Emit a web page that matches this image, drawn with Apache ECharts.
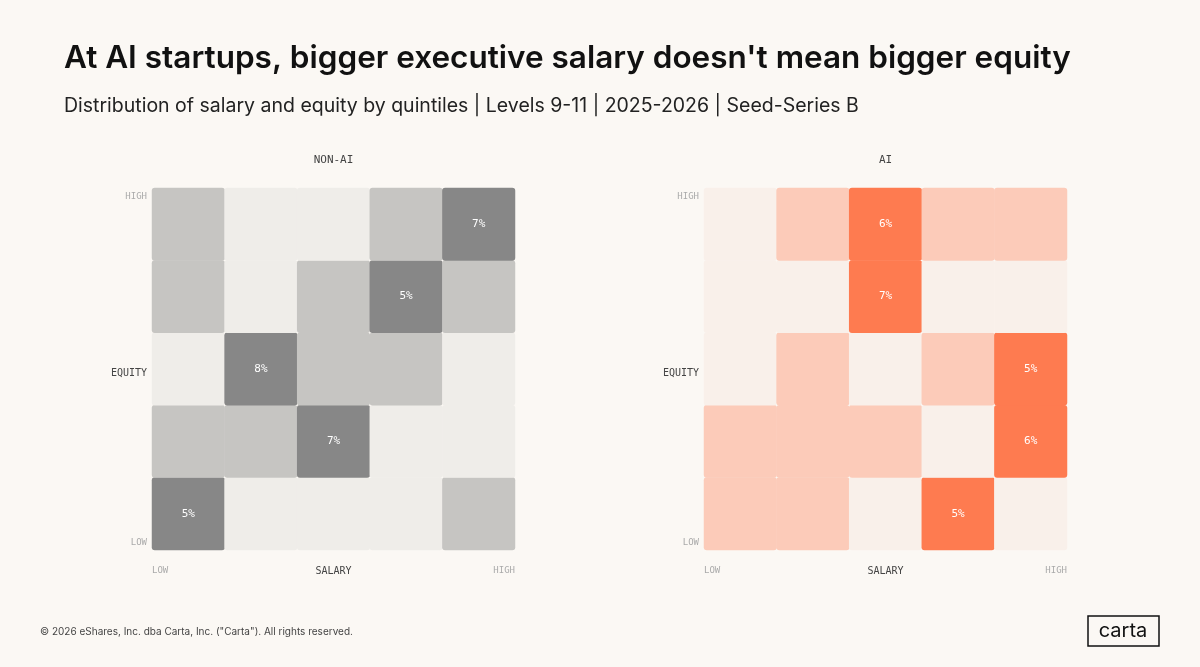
<!doctype html>
<html lang="en">
<head>
<meta charset="utf-8" />
<script src="https://cdn.jsdelivr.net/npm/echarts@6/dist/echarts.min.js"></script>
<style>
	html, body { margin: 0; background: #fbf8f4; }
	#main { width: 1200px; height: 667px; }
</style>
</head>
<body>
<div id="main"></div>
<script>
	// shade level per cell, rows from LOW equity (bottom) to HIGH, columns salary LOW -> HIGH
	var nonAiLevels = [
		[2, 0, 0, 0, 1],
		[1, 1, 2, 0, 0],
		[0, 2, 1, 1, 0],
		[1, 0, 1, 2, 1],
		[1, 0, 0, 1, 2]
	];
	var nonAiPct = [
		['5%', '', '', '', ''],
		['', '', '7%', '', ''],
		['', '8%', '', '', ''],
		['', '', '', '5%', ''],
		['', '', '', '', '7%']
	];
	var aiLevels = [
		[1, 1, 0, 2, 0],
		[1, 1, 1, 0, 2],
		[0, 1, 0, 1, 2],
		[0, 0, 2, 0, 0],
		[0, 1, 2, 1, 1]
	];
	var aiPct = [
		['', '', '', '5%', ''],
		['', '', '', '', '6%'],
		['', '', '', '', '5%'],
		['', '', '7%', '', ''],
		['', '', '6%', '', '']
	];
	var quintiles = ['Q1', 'Q2', 'Q3', 'Q4', 'Q5'];

	var greyPalette = ['#efede9', '#c6c5c2', '#878787'];
	var orangePalette = ['#f9f0ea', '#fccbb9', '#fe7b50'];
	var mono = '"DejaVu Sans Mono", monospace';

	function buildCells(levels, pct, palette) {
		var out = [];
		levels.forEach(function (row, y) {
			row.forEach(function (lv, x) {
				out.push({
					value: [x, y, lv],
					pct: pct[y][x],
					itemStyle: { color: palette[lv] }
				});
			});
		});
		return out;
	}

	var grids = [
		{ left: 152, top: 188, width: 363, height: 362 },
		{ left: 704, top: 188, width: 363, height: 362 }
	];

	function axes() {
		return [0, 1].map(function (i) {
			return { type: 'category', data: quintiles, gridIndex: i, show: false };
		});
	}

	function cellSeries(i, levels, pct, palette) {
		return {
			type: 'heatmap', xAxisIndex: i, yAxisIndex: i,
			data: buildCells(levels, pct, palette),
			itemStyle: { borderRadius: 3, borderWidth: 0 },
			label: {
				show: true, color: '#fff', fontFamily: mono, fontSize: 11,
				formatter: function (p) { return p.data.pct; }
			},
			emphasis: { disabled: true }
		};
	}

	function panelText(g, name) {
		var cx = g.left + g.width / 2;
		var st = { fontFamily: mono, fontSize: 9, fill: '#aaa' };
		function t(x, y, text, align, color, size) {
			return { type: 'text', x: x, y: y, style: Object.assign({}, st, {
				text: text, align: align, verticalAlign: 'middle',
				fill: color || st.fill, fontSize: size || st.fontSize }) };
		}
		return [
			t(cx, 160, name, 'center', '#444', 11),
			t(g.left - 5, 197, 'HIGH', 'right'),
			t(g.left - 5, 543, 'LOW', 'right'),
			t(g.left - 5, 373, 'EQUITY', 'right', '#444', 10),
			t(g.left, 571, 'LOW', 'left'),
			t(cx, 571, 'SALARY', 'center', '#444', 10),
			t(g.left + g.width, 571, 'HIGH', 'right')
		];
	}

	var chart = echarts.init(document.getElementById('main'));
	chart.setOption({
		backgroundColor: '#fbf8f4',
		animation: false,
		title: [
			{ text: "At AI startups, bigger executive salary doesn't mean bigger equity",
			  left: 59, top: 38,
			  textStyle: { fontFamily: 'Inter', fontWeight: 600, fontSize: 31.5, color: '#111' } },
			{ text: 'Distribution of salary and equity by quintiles | Levels 9-11 | 2025-2026 | Seed-Series B',
			  left: 59, top: 91,
			  textStyle: { fontFamily: 'Inter', fontWeight: 400, fontSize: 19.5, color: '#222' } }
		],
		grid: grids,
		xAxis: axes(),
		yAxis: axes(),
		series: [
			cellSeries(0, nonAiLevels, nonAiPct, greyPalette),
			cellSeries(1, aiLevels, aiPct, orangePalette)
		],
		graphic: panelText(grids[0], 'NON-AI').concat(panelText(grids[1], 'AI')).concat([
			{ type: 'text', x: 40, y: 632, style: { text: '© 2026 eShares, Inc. dba Carta, Inc. ("Carta"). All rights reserved.',
				fontFamily: 'Inter', fontSize: 10, fill: '#444', verticalAlign: 'middle' } },
			{ type: 'rect', shape: { x: 1088, y: 616, width: 71, height: 30 },
				style: { fill: 'none', stroke: '#111', lineWidth: 1.5 } },
			{ type: 'text', x: 1123, y: 631, style: { text: 'carta', fontFamily: 'Inter', fontSize: 20,
				fill: '#111', align: 'center', verticalAlign: 'middle' } }
		])
	});
</script>
</body>
</html>
